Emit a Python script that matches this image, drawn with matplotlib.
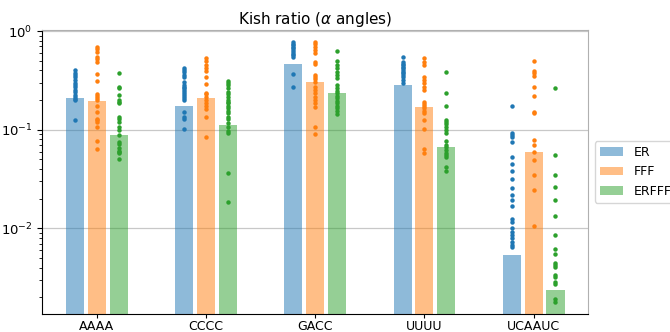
import matplotlib
matplotlib.use("Agg")
import matplotlib.pyplot as plt
import numpy as np

categories = ['AAAA', 'CCCC', 'GACC', 'UUUU', 'UCAAUC']
methods = ['ER', 'FFF', 'ERFFF']
colors = ['#1f77b4', '#ff7f0e', '#2ca02c']

# bar heights per method (one value per category)
bar_er = [0.208, 0.175, 0.47, 0.284, 0.00537]
bar_fff = [0.197, 0.208, 0.306, 0.169, 0.0598]
bar_erfff = [0.0877, 0.112, 0.237, 0.0673, 0.00238]

# individual points
er_aaaa = [0.40, 0.38, 0.36, 0.34, 0.32, 0.30, 0.285, 0.27, 0.255, 0.24, 0.225, 0.215, 0.205, 0.20, 0.125]
fff_aaaa = [0.684, 0.653, 0.617, 0.549, 0.517, 0.489, 0.367, 0.311, 0.230, 0.219, 0.208, 0.20,
            0.174, 0.152, 0.130, 0.125, 0.119, 0.107, 0.0774, 0.0637]
erfff_aaaa = [0.373, 0.273, 0.263, 0.225, 0.20, 0.192, 0.185, 0.135, 0.130, 0.120, 0.107, 0.099,
              0.0884, 0.0755, 0.0716, 0.0648, 0.0613, 0.059, 0.0577, 0.050]

er_cccc = [0.419, 0.403, 0.387, 0.358, 0.34, 0.306, 0.284, 0.273, 0.263, 0.252, 0.243, 0.230,
           0.219, 0.208, 0.20, 0.152, 0.135, 0.128, 0.103]
fff_cccc = [0.541, 0.50, 0.452, 0.419, 0.396, 0.34, 0.29, 0.237, 0.230, 0.213, 0.20, 0.188,
            0.174, 0.161, 0.135, 0.0838]
erfff_cccc = [0.313, 0.299, 0.284, 0.263, 0.243, 0.230, 0.213, 0.20, 0.192, 0.185, 0.174, 0.165,
              0.156, 0.147, 0.135, 0.130, 0.116, 0.106, 0.0977, 0.092, 0.0362, 0.0187]

er_gacc = [0.78, 0.75, 0.72, 0.693, 0.668, 0.642, 0.617, 0.594, 0.571, 0.549, 0.367, 0.273]
fff_gacc = [0.78, 0.738, 0.693, 0.642, 0.603, 0.489, 0.463, 0.358, 0.34, 0.324, 0.306, 0.273,
            0.252, 0.234, 0.216, 0.20, 0.185, 0.169, 0.107, 0.0904]
erfff_gacc = [0.632, 0.50, 0.452, 0.419, 0.387, 0.358, 0.332, 0.284, 0.263, 0.248, 0.234, 0.22,
              0.208, 0.197, 0.185, 0.174, 0.165, 0.156, 0.144]

er_uuuu = [0.549, 0.489, 0.47, 0.452, 0.435, 0.419, 0.403, 0.387, 0.373, 0.358, 0.34, 0.319, 0.296]
fff_uuuu = [0.529, 0.489, 0.452, 0.34, 0.319, 0.296, 0.273, 0.252, 0.192, 0.182, 0.174, 0.165,
            0.156, 0.147, 0.127, 0.103, 0.0633, 0.0585]
erfff_uuuu = [0.387, 0.234, 0.174, 0.127, 0.12, 0.114, 0.106, 0.099, 0.092, 0.0774, 0.07, 0.0663,
              0.0623, 0.0585, 0.0554, 0.0525, 0.0422, 0.0384]

er_ucaauc = [0.175, 0.0933, 0.0884, 0.0838, 0.0755, 0.0525, 0.0449, 0.0384, 0.0316, 0.0258, 0.0218,
             0.0194, 0.0169, 0.0124, 0.0117, 0.010, 0.00927, 0.00857, 0.00794, 0.00733, 0.00679, 0.00643]
fff_ucaauc = [0.497, 0.394, 0.373, 0.35, 0.273, 0.221, 0.152, 0.148, 0.0787, 0.07, 0.06, 0.0493,
              0.0348, 0.0245, 0.0106]
erfff_ucaauc = [0.263, 0.0554, 0.0348, 0.0263, 0.0195, 0.0134, 0.0085, 0.00614, 0.0055, 0.0045,
                0.00426, 0.00404, 0.00337, 0.0032, 0.00288, 0.00273, 0.00191, 0.00181]

bars = [bar_er, bar_fff, bar_erfff]
points = [
    [er_aaaa, er_cccc, er_gacc, er_uuuu, er_ucaauc],
    [fff_aaaa, fff_cccc, fff_gacc, fff_uuuu, fff_ucaauc],
    [erfff_aaaa, erfff_cccc, erfff_gacc, erfff_uuuu, erfff_ucaauc],
]

fig = plt.figure(figsize=(6.7, 3.32), dpi=100)
ax = fig.add_axes([0.063, 0.054, 0.815, 0.857])

x = np.arange(len(categories))
offsets = [-0.2, 0.0, 0.2]
for i, m in enumerate(methods):
    ax.bar(x + offsets[i], bars[i], width=0.165, color=colors[i], alpha=0.5,
           label=m, zorder=2)
    for j in range(len(categories)):
        vals = points[i][j]
        ax.plot(np.full(len(vals), x[j] + offsets[i]), vals, 'o', color=colors[i],
                ms=3.2, mec='none', zorder=3)

ax.set_yscale('log')
ax.set_ylim(0.00135, 1.04)
ax.set_xlim(-0.5, 4.5)
ax.set_xticks(x)
ax.set_xticklabels(categories, fontsize=9)
ax.tick_params(axis='x', length=3, pad=1.5)
ax.tick_params(axis='y', labelsize=9.5)
ax.yaxis.grid(True, which='major', color='#c8c8c8', lw=0.9, zorder=0)
ax.set_axisbelow(True)
for s in ['top', 'right']:
    ax.spines[s].set_color('#b0b0b0')
ax.set_title(r'Kish ratio ($\alpha$ angles)', fontsize=11, pad=4)
ax.legend(loc='center left', bbox_to_anchor=(1.0, 0.5), fontsize=9,
          handlelength=1.9, handletextpad=0.8)

fig.savefig('out.png', dpi=100)
